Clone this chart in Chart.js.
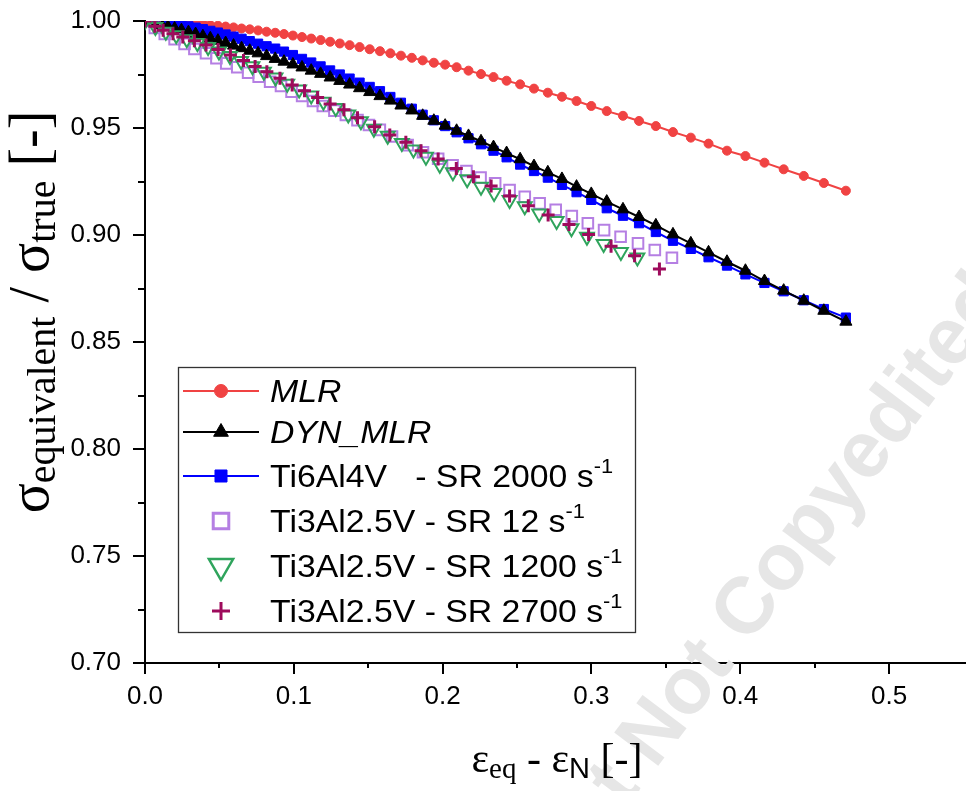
<!DOCTYPE html>
<html>
<head>
<meta charset="utf-8">
<script src="https://cdn.jsdelivr.net/npm/chart.js"></script>
<style>
  html, body { margin: 0; padding: 0; background: #fff; }
  #wrap { width: 966px; height: 791px; }
</style>
</head>
<body>
<div id="wrap"><canvas id="chart" width="966" height="791"></canvas></div>
<script>
// --- data ---
// model curves share one strain grid
const strainModel = [0, 0.0035, 0.0067, 0.0110, 0.0154, 0.0199, 0.0245, 0.0292, 0.0340, 0.0389,
  0.0439, 0.0490, 0.0542, 0.0595, 0.0649, 0.0704, 0.0760, 0.0817, 0.0875, 0.0934,
  0.0994, 0.1055, 0.1117, 0.1180, 0.1244, 0.1309, 0.1375, 0.1442, 0.1510, 0.1579,
  0.1649, 0.1720, 0.1793, 0.1866, 0.1941, 0.2017, 0.2094, 0.2174, 0.2258, 0.2342,
  0.2430, 0.2521, 0.2614, 0.2707, 0.2802, 0.2900, 0.2999, 0.3103, 0.3212, 0.3320,
  0.3433, 0.3548, 0.3668, 0.3787, 0.3911, 0.4035, 0.4163, 0.4292, 0.4427, 0.4562, 0.4710];

const mlrRatio = [1.0000, 1.0000, 0.9999, 0.9998, 0.9996, 0.9995, 0.9993, 0.9990, 0.9988, 0.9985,
  0.9981, 0.9978, 0.9974, 0.9970, 0.9965, 0.9961, 0.9956, 0.9950, 0.9945, 0.9939,
  0.9932, 0.9925, 0.9918, 0.9911, 0.9903, 0.9895, 0.9887, 0.9878, 0.9868, 0.9859,
  0.9849, 0.9838, 0.9828, 0.9816, 0.9805, 0.9796, 0.9784, 0.9768, 0.9752, 0.9738,
  0.9721, 0.9704, 0.9684, 0.9665, 0.9646, 0.9626, 0.9603, 0.9579, 0.9557, 0.9533,
  0.9509, 0.9481, 0.9455, 0.9427, 0.9394, 0.9369, 0.9338, 0.9307, 0.9276, 0.9243, 0.9207];

const dynMlrRatio = [1.0000, 0.9994, 0.9989, 0.9981, 0.9973, 0.9965, 0.9957, 0.9948, 0.9939, 0.9929,
  0.9919, 0.9908, 0.9897, 0.9885, 0.9873, 0.9861, 0.9849, 0.9836, 0.9823, 0.9810,
  0.9797, 0.9783, 0.9768, 0.9753, 0.9736, 0.9720, 0.9703, 0.9686, 0.9668, 0.9649,
  0.9628, 0.9605, 0.9582, 0.9557, 0.9534, 0.9511, 0.9487, 0.9463, 0.9438, 0.9411,
  0.9383, 0.9354, 0.9322, 0.9293, 0.9262, 0.9226, 0.9192, 0.9156, 0.9120, 0.9084,
  0.9045, 0.9003, 0.8961, 0.8919, 0.8875, 0.8833, 0.8785, 0.8740, 0.8693, 0.8646, 0.8595];

const ti6Ratio = [1.0000, 0.9999, 0.9997, 0.9994, 0.9990, 0.9986, 0.9981, 0.9975, 0.9969, 0.9962,
  0.9954, 0.9946, 0.9937, 0.9927, 0.9917, 0.9906, 0.9894, 0.9882, 0.9871, 0.9857,
  0.9841, 0.9823, 0.9806, 0.9788, 0.9769, 0.9750, 0.9731, 0.9712, 0.9692, 0.9672,
  0.9645, 0.9618, 0.9590, 0.9562, 0.9536, 0.9509, 0.9480, 0.9452, 0.9424, 0.9394,
  0.9363, 0.9329, 0.9299, 0.9268, 0.9234, 0.9200, 0.9164, 0.9125, 0.9090, 0.9055,
  0.9014, 0.8973, 0.8935, 0.8896, 0.8857, 0.8816, 0.8776, 0.8737, 0.8695, 0.8654, 0.8614];

// Ti3Al2.5V experiments
const sr12Strain = [0, 0.0066, 0.0133, 0.0199, 0.0266, 0.0332, 0.0410, 0.0480, 0.0546, 0.0620,
  0.0693, 0.0764, 0.0841, 0.0914, 0.0985, 0.1056, 0.1129, 0.1195, 0.1273, 0.1350,
  0.1428, 0.1505, 0.1578, 0.1660, 0.1765, 0.1868, 0.1970, 0.2067, 0.2160, 0.2255,
  0.2353, 0.2450, 0.2552, 0.2652, 0.2760, 0.2868, 0.2976, 0.3085, 0.3196, 0.3313, 0.3426, 0.3541];
const sr12Ratio = [1.0000, 0.9968, 0.9940, 0.9915, 0.9893, 0.9869, 0.9849, 0.9826, 0.9802, 0.9784,
  0.9758, 0.9740, 0.9716, 0.9696, 0.9670, 0.9650, 0.9626, 0.9603, 0.9581, 0.9561,
  0.9537, 0.9514, 0.9491, 0.9460, 0.9420, 0.9387, 0.9356, 0.9326, 0.9299, 0.9268,
  0.9242, 0.9210, 0.9179, 0.9148, 0.9118, 0.9088, 0.9055, 0.9023, 0.8992, 0.8961, 0.8930, 0.8894];

const sr1200Strain = [0, 0.0070, 0.0140, 0.0210, 0.0281, 0.0352, 0.0424, 0.0497, 0.0571, 0.0646,
  0.0722, 0.0799, 0.0877, 0.0956, 0.1036, 0.1117, 0.1199, 0.1282, 0.1366, 0.1451,
  0.1538, 0.1631, 0.1726, 0.1804, 0.1888, 0.1981, 0.2069, 0.2165, 0.2258, 0.2346,
  0.2450, 0.2552, 0.2649, 0.2766, 0.2866, 0.2970, 0.3082, 0.3198, 0.3309];
const sr1200Ratio = [1.0000, 0.9972, 0.9950, 0.9933, 0.9915, 0.9897, 0.9879, 0.9858, 0.9836, 0.9813,
  0.9788, 0.9763, 0.9736, 0.9707, 0.9680, 0.9652, 0.9623, 0.9594, 0.9563, 0.9531,
  0.9497, 0.9464, 0.9430, 0.9400, 0.9366, 0.9328, 0.9293, 0.9260, 0.9226, 0.9196,
  0.9164, 0.9134, 0.9100, 0.9065, 0.9032, 0.8992, 0.8958, 0.8920, 0.8895];

const sr2700Strain = [0, 0.0066, 0.0122, 0.0188, 0.0254, 0.0332, 0.0410, 0.0491, 0.0574, 0.0662,
  0.0740, 0.0819, 0.0907, 0.0989, 0.1072, 0.1160, 0.1244, 0.1337, 0.1428, 0.1543,
  0.1645, 0.1753, 0.1855, 0.1970, 0.2092, 0.2207, 0.2326, 0.2450, 0.2576, 0.2709,
  0.2849, 0.2981, 0.3132, 0.3290, 0.3457];
const sr2700Ratio = [1.0000, 0.9975, 0.9957, 0.9941, 0.9925, 0.9908, 0.9888, 0.9867, 0.9841, 0.9815,
  0.9787, 0.9763, 0.9732, 0.9701, 0.9674, 0.9643, 0.9612, 0.9585, 0.9548, 0.9506,
  0.9467, 0.9433, 0.9394, 0.9355, 0.9311, 0.9272, 0.9229, 0.9182, 0.9137, 0.9093,
  0.9049, 0.9002, 0.8947, 0.8903, 0.8841];

const xTicks = [0, 0.1, 0.2, 0.3, 0.4, 0.5];
const yTicks = [0.70, 0.75, 0.80, 0.85, 0.90, 0.95, 1.00];

const RED = '#f04343', BLACK = '#000000', BLUE = '#0000ff';
const PURPLE = '#b57fe3', GREEN = '#2fa45c', MAROON = '#9e0b5c';

function pairs(xs, ys) { return xs.map((x, i) => ({ x: x, y: ys[i] })); }

// legend rows (text parts, marker look)
const legendRows = [
  { parts: [{ t: 'MLR', italic: true }], line: RED, style: 'circle', r: 6.5, fill: RED, stroke: RED, lw: 1 },
  { parts: [{ t: 'DYN_MLR', italic: true }], line: BLACK, style: 'triangle', r: 8.5, fill: BLACK, stroke: BLACK, lw: 1 },
  { parts: [{ t: 'Ti6Al4V   - SR 2000 s' }, { t: '-1', sup: true }], line: BLUE, style: 'rect', r: 8.5, fill: BLUE, stroke: BLUE, lw: 1 },
  { parts: [{ t: 'Ti3Al2.5V - SR 12 s' }, { t: '-1', sup: true }], line: null, style: 'rect', r: 11, fill: null, stroke: PURPLE, lw: 3 },
  { parts: [{ t: 'Ti3Al2.5V - SR 1200 s' }, { t: '-1', sup: true }], line: null, style: 'triangle', rot: 180, r: 14, fill: null, stroke: GREEN, lw: 2.5 },
  { parts: [{ t: 'Ti3Al2.5V - SR 2700 s' }, { t: '-1', sup: true }], line: null, style: 'cross', r: 9, fill: null, stroke: MAROON, lw: 3 }
];

function marker(ctx, style, x, y, r, rot, fill, stroke, lw) {
  ctx.save();
  ctx.lineWidth = lw;
  ctx.strokeStyle = stroke;
  ctx.beginPath();
  if (style === 'circle') {
    ctx.arc(x, y, r, 0, Math.PI * 2);
  } else if (style === 'rect') {
    const s = r * Math.SQRT1_2;
    ctx.rect(x - s, y - s, 2 * s, 2 * s);
  } else if (style === 'triangle') {
    const a0 = (rot || 0) * Math.PI / 180;
    for (let k = 0; k < 3; k++) {
      const a = a0 + k * 2 * Math.PI / 3;
      const px = x + Math.sin(a) * r, py = y - Math.cos(a) * r;
      if (k === 0) ctx.moveTo(px, py); else ctx.lineTo(px, py);
    }
    ctx.closePath();
  } else if (style === 'cross') {
    ctx.moveTo(x - r, y); ctx.lineTo(x + r, y);
    ctx.moveTo(x, y - r); ctx.lineTo(x, y + r);
  }
  if (fill) { ctx.fillStyle = fill; ctx.fill(); }
  ctx.stroke();
  ctx.restore();
}

function richText(ctx, parts, x, y, angle) {
  ctx.save();
  ctx.translate(x, y);
  ctx.rotate(angle);
  let total = 0;
  parts.forEach(p => { ctx.font = p.font; p.w = ctx.measureText(p.t).width; total += p.w; });
  let cx = -total / 2;
  ctx.fillStyle = '#000';
  ctx.textAlign = 'left';
  ctx.textBaseline = 'alphabetic';
  parts.forEach(p => { ctx.font = p.font; ctx.fillText(p.t, cx, p.dy || 0); cx += p.w; });
  ctx.restore();
}

// major + minor tick marks, drawn by hand (different lengths)
const tickMarks = {
  id: 'tickMarks',
  afterDraw(chart) {
    const ctx = chart.ctx, xs = chart.scales.x, ys = chart.scales.y;
    const a = chart.chartArea;
    ctx.save();
    ctx.strokeStyle = '#000';
    ctx.lineWidth = 2;
    ctx.beginPath();
    // the x axis runs to the edge of the picture
    ctx.moveTo(a.right - 1, a.bottom);
    ctx.lineTo(chart.width, a.bottom);
    for (let i = 0; i <= 10; i++) {
      const px = Math.round(xs.getPixelForValue(i * 0.05));
      ctx.moveTo(px, a.bottom);
      ctx.lineTo(px, a.bottom + (i % 2 === 0 ? 11 : 5));
    }
    for (let i = 0; i <= 12; i++) {
      const py = Math.round(ys.getPixelForValue(0.7 + i * 0.025));
      ctx.moveTo(a.left, py);
      ctx.lineTo(a.left - (i % 2 === 0 ? 12 : 7), py);
    }
    ctx.stroke();
    ctx.restore();
  }
};

const axisTitles = {
  id: 'axisTitles',
  afterDraw(chart) {
    const ctx = chart.ctx;
    const serif = '"Liberation Serif", "Times New Roman", serif';
    richText(ctx, [
      { t: '\u03c3', font: '56px ' + serif },
      { t: 'equivalent', font: '40px ' + serif, dy: 7 },
      { t: ' / ', font: '56px ' + serif },
      { t: '\u03c3', font: '56px ' + serif },
      { t: 'true', font: '40px ' + serif, dy: 7 },
      { t: ' [-]', font: '56px ' + serif }
    ], 48, 312, -Math.PI / 2);
    richText(ctx, [
      { t: '\u03b5', font: '42px ' + serif },
      { t: 'eq', font: '29px ' + serif, dy: 6 },
      { t: ' - ', font: '42px ' + serif },
      { t: '\u03b5', font: '42px ' + serif },
      { t: 'N', font: '29px "Liberation Sans", Arial, sans-serif', dy: 6 },
      { t: ' [-]', font: '42px ' + serif }
    ], 557, 772, 0);
  }
};

const legendBox = {
  id: 'legendBox',
  afterDraw(chart) {
    const ctx = chart.ctx;
    const sans = '"Liberation Sans", Arial, sans-serif';
    const baselines = [402, 443, 487, 532, 577, 622];
    ctx.save();
    ctx.fillStyle = '#fff';
    ctx.fillRect(178, 367, 457, 265);
    ctx.strokeStyle = '#333';
    ctx.lineWidth = 1.3;
    ctx.strokeRect(178.5, 367.5, 457, 265);
    legendRows.forEach((row, i) => {
      const base = baselines[i];
      const my = base - 11;
      if (row.line) {
        ctx.strokeStyle = row.line;
        ctx.lineWidth = 2;
        ctx.beginPath();
        ctx.moveTo(183, my); ctx.lineTo(259, my);
        ctx.stroke();
      }
      marker(ctx, row.style, 221, my, row.r, row.rot, row.fill, row.stroke, row.lw);
      // text, slightly stretched like the original
      ctx.save();
      ctx.translate(270, base);
      ctx.scale(1.09, 1);
      ctx.fillStyle = '#000';
      ctx.textBaseline = 'alphabetic';
      let cx = 0;
      row.parts.forEach(p => {
        ctx.font = (p.italic ? 'italic ' : '') + (p.sup ? '20px ' : '31px ') + sans;
        ctx.fillText(p.t, cx, p.sup ? -14 : 0);
        cx += ctx.measureText(p.t).width;
      });
      ctx.restore();
    });
    ctx.restore();
  }
};

const watermark = {
  id: 'watermark',
  beforeDatasetsDraw(chart) {
    const ctx = chart.ctx;
    ctx.save();
    ctx.translate(655, 770);
    ctx.rotate(-53 * Math.PI / 180);
    ctx.font = 'bold 80px "Liberation Sans", Arial, sans-serif';
    ctx.fillStyle = '#e6e6e6';
    ctx.textBaseline = 'alphabetic';
    ctx.textAlign = 'left';
    ctx.fillText('Not Copyedited', 0, 0);
    ctx.textAlign = 'right';
    ctx.fillText('Accepted Manuscript ', 0, 0);
    ctx.restore();
  }
};

const tickFont = { family: '"Liberation Sans", Arial, sans-serif', size: 26 };

function noPad(s) { s.paddingLeft = 0; s.paddingRight = 0; s.paddingTop = 0; s.paddingBottom = 0; }

new Chart(document.getElementById('chart'), {
  type: 'scatter',
  data: {
    datasets: [
      { label: 'MLR', data: pairs(strainModel, mlrRatio), showLine: true, order: 5,
        borderColor: RED, backgroundColor: RED, borderWidth: 2,
        pointStyle: 'circle', pointRadius: 4.5, pointBorderWidth: 1 },
      { label: 'DYN_MLR', data: pairs(strainModel, dynMlrRatio), showLine: true, order: 3,
        borderColor: BLACK, backgroundColor: BLACK, borderWidth: 2,
        pointStyle: 'triangle', pointRadius: 7, pointBorderWidth: 1 },
      { label: 'Ti6Al4V - SR 2000 s-1', data: pairs(strainModel, ti6Ratio), showLine: true, order: 4,
        borderColor: BLUE, backgroundColor: BLUE, borderWidth: 2,
        pointStyle: 'rect', pointRadius: 6.5, pointBorderWidth: 1 },
      { label: 'Ti3Al2.5V - SR 12 s-1', data: pairs(sr12Strain, sr12Ratio), showLine: false, order: 2,
        borderColor: PURPLE, backgroundColor: 'rgba(0,0,0,0)',
        pointStyle: 'rect', pointRadius: 7.5, pointBorderWidth: 2 },
      { label: 'Ti3Al2.5V - SR 1200 s-1', data: pairs(sr1200Strain, sr1200Ratio), showLine: false, order: 1,
        borderColor: GREEN, backgroundColor: 'rgba(0,0,0,0)',
        pointStyle: 'triangle', pointRotation: 180, pointRadius: 8, pointBorderWidth: 2 },
      { label: 'Ti3Al2.5V - SR 2700 s-1', data: pairs(sr2700Strain, sr2700Ratio), showLine: false, order: 0,
        borderColor: MAROON, backgroundColor: MAROON,
        pointStyle: 'cross', pointRadius: 6.5, pointBorderWidth: 3 }
    ]
  },
  options: {
    responsive: false,
    animation: false,
    events: [],
    devicePixelRatio: 1,
    layout: { padding: { top: 21, left: 0, right: 0, bottom: 0 } },
    plugins: { legend: { display: false }, tooltip: { enabled: false } },
    elements: { line: { tension: 0 } },
    scales: {
      x: {
        type: 'linear', min: 0, max: 0.545,
        afterFit(s) { s.height = 128; noPad(s); },
        border: { display: true, color: '#000', width: 2 },
        grid: { display: false, drawTicks: false },
        afterBuildTicks(s) { s.ticks = xTicks.map(v => ({ value: v })); },
        ticks: { padding: 18, color: '#000', font: tickFont, callback: v => v.toFixed(1) }
      },
      y: {
        type: 'linear', min: 0.7, max: 1.0,
        afterFit(s) { s.width = 145; noPad(s); },
        border: { display: true, color: '#000', width: 2 },
        grid: { display: false, drawTicks: false },
        afterBuildTicks(s) { s.ticks = yTicks.map(v => ({ value: v })); },
        ticks: { padding: 24, color: '#000', font: tickFont, callback: v => v.toFixed(2) }
      }
    }
  },
  plugins: [watermark, tickMarks, axisTitles, legendBox]
});
</script>
</body>
</html>
